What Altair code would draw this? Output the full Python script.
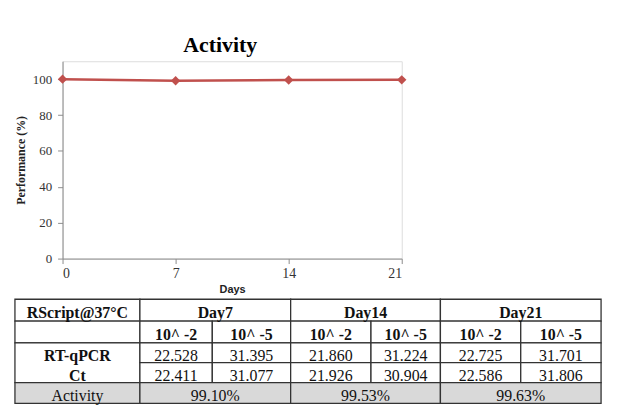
import altair as alt
import pandas as pd

# ---------------- data ----------------
days = [0, 7, 14, 21]
performance = [100.0, 99.10, 99.53, 99.63]

corner_label = "RScript@37°C"
day_headers = ["Day7", "Day14", "Day21"]
dilutions = ["10^ -2", "10^ -5"]
ct_row1 = ["22.528", "31.395", "21.860", "31.224", "22.725", "31.701"]
ct_row2 = ["22.411", "31.077", "21.926", "30.904", "22.586", "31.806"]
row_labels = ["RT-qPCR", "Ct"]
activity_label = "Activity"
activity_values = ["99.10%", "99.53%", "99.63%"]

# ---------------- layout (page pixels) ----------------
COL_EDGES = [15, 141, 214, 293, 374, 444, 525, 606]
ROW_EDGES = [300, 322, 344, 364, 384, 405]
PLOT_X0, PLOT_Y0 = 63, 60
W, H = 342, 199
RED = "#C0504D"
AXIS_GRAY = "#8C8C8C"
SERIF = "Liberation Serif"

line_df = pd.DataFrame({"Days": days, "Performance": performance})

x_enc = alt.X("Days:Q",
              scale=alt.Scale(domain=[0, 21], nice=False, zero=True),
              axis=alt.Axis(values=days, title="Days", labelFont=SERIF,
                            labelFontSize=14, labelColor="#333333"))
y_enc = alt.Y("Performance:Q",
              scale=alt.Scale(domain=[0, 110], nice=False),
              axis=alt.Axis(values=[0, 20, 40, 60, 80, 100],
                            title="Performance (%)", labelFont=SERIF,
                            labelFontSize=13, labelColor="#333333"))

line = alt.Chart(line_df).mark_line(color=RED, strokeWidth=2.5).encode(x=x_enc, y=y_enc)
pts = alt.Chart(line_df).mark_point(shape="diamond", filled=True, color=RED,
                                    size=90, opacity=1).encode(x=x_enc, y=y_enc)
main = alt.layer(line, pts)

# ---------------- table ----------------
cells = []
texts = []

def add_cell(c0, c1, r0, r1, fill="white"):
    cells.append({"x0": COL_EDGES[c0], "x1": COL_EDGES[c1],
                  "y0": ROW_EDGES[r0], "y1": ROW_EDGES[r1], "fill": fill})

def add_text(c0, c1, r, txt, bold):
    texts.append({"xc": (COL_EDGES[c0] + COL_EDGES[c1]) / 2,
                  "yc": (ROW_EDGES[r] + ROW_EDGES[r + 1]) / 2,
                  "txt": txt, "bold": bold})

GRAY = "#D9D9D9"
add_cell(0, 1, 0, 1); add_text(0, 1, 0, corner_label, True)
add_cell(0, 1, 1, 2)
add_cell(0, 1, 2, 4)
add_text(0, 1, 2, row_labels[0], True)
add_text(0, 1, 3, row_labels[1], True)
add_cell(0, 1, 4, 5, GRAY); add_text(0, 1, 4, activity_label, False)

for d in range(3):
    c0 = 1 + 2 * d
    add_cell(c0, c0 + 2, 0, 1); add_text(c0, c0 + 2, 0, day_headers[d], True)
    for k in range(2):
        c = c0 + k
        add_cell(c, c + 1, 1, 2); add_text(c, c + 1, 1, dilutions[k], True)
        add_cell(c, c + 1, 2, 3); add_text(c, c + 1, 2, ct_row1[2 * d + k], False)
        add_cell(c, c + 1, 3, 4); add_text(c, c + 1, 3, ct_row2[2 * d + k], False)
    add_cell(c0, c0 + 2, 4, 5, GRAY); add_text(c0, c0 + 2, 4, activity_values[d], False)

cells_df = pd.DataFrame(cells)
texts_df = pd.DataFrame(texts)
bold_df = texts_df[texts_df["bold"]].drop(columns="bold")
norm_df = texts_df[~texts_df["bold"]].drop(columns="bold")

tx_scale = alt.Scale(domain=[COL_EDGES[0], COL_EDGES[-1]],
                     range=[COL_EDGES[0] - PLOT_X0, COL_EDGES[-1] - PLOT_X0], nice=False, zero=False)
ty_scale = alt.Scale(domain=[ROW_EDGES[0], ROW_EDGES[-1]],
                     range=[ROW_EDGES[0] - PLOT_Y0, ROW_EDGES[-1] - PLOT_Y0], nice=False, zero=False)

rects = alt.Chart(cells_df).mark_rect(stroke="#333333", strokeWidth=1.3).encode(
    x=alt.X("x0:Q", scale=tx_scale, axis=None),
    x2="x1:Q",
    y=alt.Y("y0:Q", scale=ty_scale, axis=None),
    y2="y1:Q",
    fill=alt.Fill("fill:N", scale=None),
)

def text_layer(df, weight):
    return alt.Chart(df).mark_text(font=SERIF, fontSize=16, color="#111111",
                                   fontWeight=weight, baseline="middle",
                                   align="center", dy=3).encode(
        x=alt.X("xc:Q", scale=tx_scale, axis=None),
        y=alt.Y("yc:Q", scale=ty_scale, axis=None),
        text="txt:N",
    )

table = alt.layer(rects, text_layer(bold_df, "bold"), text_layer(norm_df, "normal"))

chart = alt.layer(main, table).resolve_scale(x="independent", y="independent").properties(
    width=W, height=H,
    title=alt.TitleParams("Activity", font=SERIF, fontSize=22, fontWeight="bold",
                          color="#000000", dx=-12, offset=-13, baseline="alphabetic"),
    autosize=alt.AutoSizeParams(type="none"),
    padding={"left": PLOT_X0 - 8, "top": PLOT_Y0 - 8, "right": 210, "bottom": 150},
).configure_view(stroke=None).configure(background="white").configure_axis(
    grid=False, domainColor=AXIS_GRAY, tickColor=AXIS_GRAY, tickSize=5,
    labelFont=SERIF, labelColor="#333333",
    titleFontWeight="bold", titleColor="#222222",
).configure_axisX(
    labelPadding=3, titleFont="Liberation Sans", titleFontSize=11, titlePadding=3,
).configure_axisY(
    labelPadding=6, titleFont=SERIF, titleFontSize=12, titlePadding=5,
)

chart.save("out.html", embed_options={"renderer": "svg", "actions": False})
